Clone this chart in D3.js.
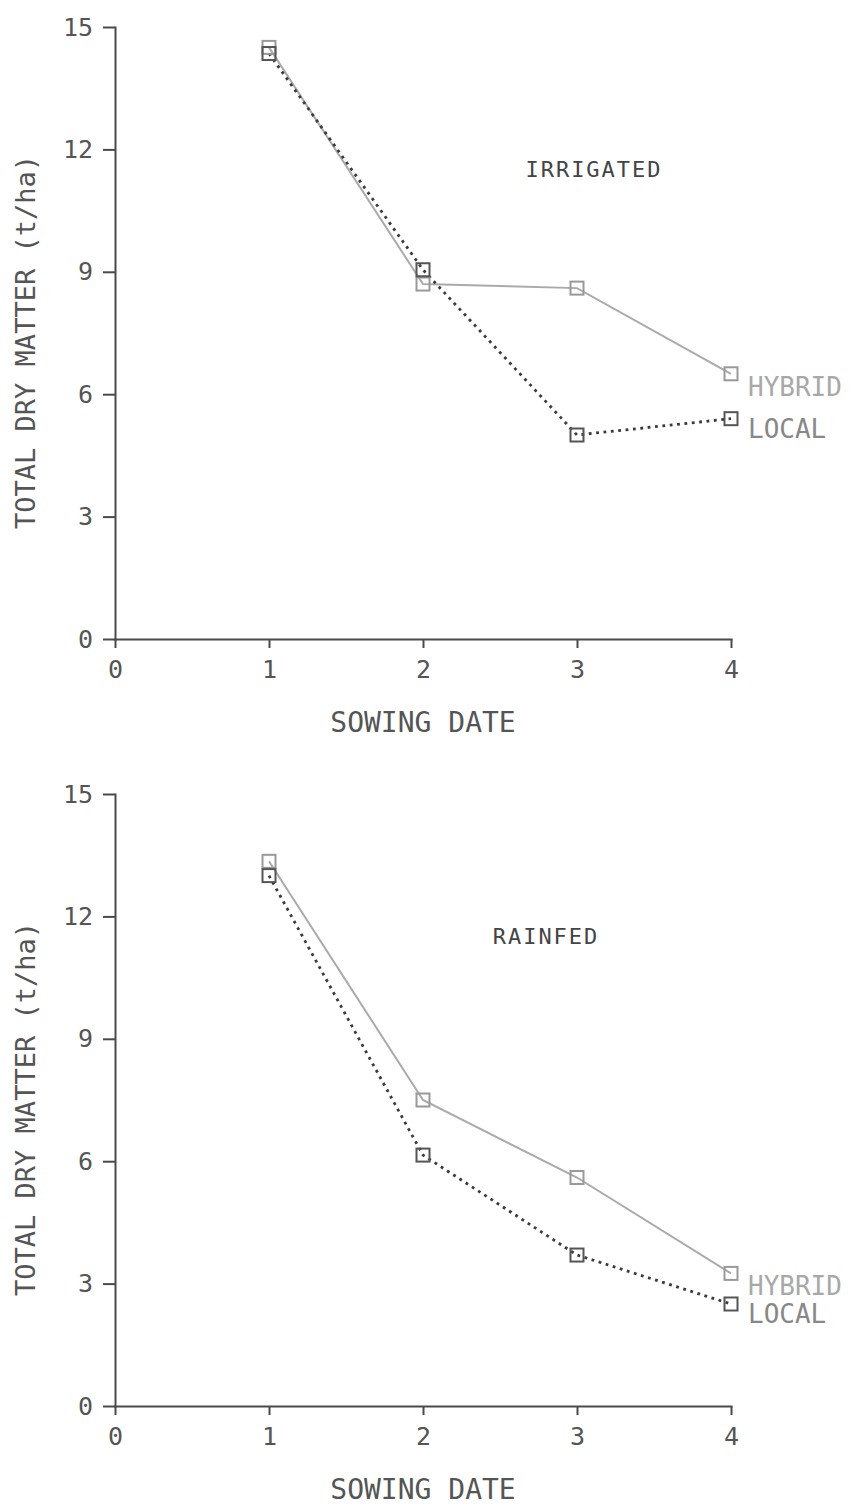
<!DOCTYPE html>
<html>
<head>
<meta charset="utf-8">
<script src="https://cdn.jsdelivr.net/npm/d3@7"></script>
<style>
  html, body { margin: 0; padding: 0; background: #fff; }
  svg { display: block; }
  .axis path, .axis line { stroke: #4a4a4a; stroke-width: 2; }
  .axis text { font-family: "DejaVu Sans Mono", monospace; font-size: 25px; fill: #555; }
  .title { font-family: "DejaVu Sans Mono", monospace; }
</style>
</head>
<body>
<svg id="chart" width="856" height="1508"></svg>
<script>
// Total dry matter (t/ha) by sowing date, hybrid vs local
const sowingDates = [1, 2, 3, 4];
const irrigatedHybrid = [14.5, 8.7, 8.6, 6.5];
const irrigatedLocal = [14.35, 9.05, 5.0, 5.4];
const rainfedHybrid = [13.35, 7.5, 5.6, 3.25];
const rainfedLocal = [13.0, 6.15, 3.7, 2.5];
const xTicks = [0, 1, 2, 3, 4];
const yTicks = [0, 3, 6, 9, 12, 15];
const panelNames = ["IRRIGATED", "RAINFED"];
const seriesNames = ["HYBRID", "LOCAL"];

const svg = d3.select("#chart");

const x = d3.scaleLinear().domain([0, 4]).range([115, 731]);
const y = d3.scaleLinear().domain([0, 15]).range([639, 27]);

const panels = [
  { name: panelNames[0], hybrid: irrigatedHybrid, local: irrigatedLocal, offset: 0, tx: 594, ty: 177 },
  { name: panelNames[1], hybrid: rainfedHybrid, local: rainfedLocal, offset: 767, tx: 546, ty: 944 - 767 }
];

const line = d3.line()
  .x((d, i) => x(sowingDates[i]))
  .y(d => y(d));

panels.forEach(p => {
  const g = svg.append("g").attr("transform", `translate(0,${p.offset})`);

  // axes
  g.append("g")
    .attr("class", "axis")
    .attr("transform", `translate(${x(0)},0)`)
    .call(d3.axisLeft(y).tickValues(yTicks).tickFormat(d3.format("d"))
      .tickSize(12).tickSizeOuter(0).tickPadding(10));

  g.append("g")
    .attr("class", "axis")
    .attr("transform", `translate(0,${y(0)})`)
    .call(d3.axisBottom(x).tickValues(xTicks).tickFormat(d3.format("d"))
      .tickSize(9).tickSizeOuter(0).tickPadding(12));

  g.selectAll(".axis .domain").attr("stroke-linecap", "square");

  // axis titles
  g.append("text")
    .attr("class", "title")
    .attr("transform", `translate(35,${(y(0) + y(15)) / 2 + 9}) rotate(-90)`)
    .attr("text-anchor", "middle")
    .attr("font-size", 27)
    .style("fill", "#555")
    .text("TOTAL DRY MATTER (t/ha)");

  g.append("text")
    .attr("class", "title")
    .attr("x", (x(0) + x(4)) / 2)
    .attr("y", 732)
    .attr("text-anchor", "middle")
    .attr("font-size", 28)
    .style("fill", "#555")
    .text("SOWING DATE");

  // panel name
  g.append("text")
    .attr("class", "title")
    .attr("x", p.tx)
    .attr("y", p.ty)
    .attr("text-anchor", "middle")
    .attr("font-size", 22)
    .attr("letter-spacing", 2)
    .style("fill", "#444")
    .text(p.name);

  // hybrid: solid light line
  g.append("path")
    .datum(p.hybrid)
    .attr("d", line)
    .attr("fill", "none")
    .attr("stroke", "#aaa")
    .attr("stroke-width", 2);

  // local: dotted dark line
  g.append("path")
    .datum(p.local)
    .attr("d", line)
    .attr("fill", "none")
    .attr("stroke", "#3a3a3a")
    .attr("stroke-width", 2.8)
    .attr("stroke-dasharray", "2.8,4.6");

  const s = 13;
  g.selectAll(".mh")
    .data(p.hybrid)
    .join("rect")
    .attr("x", (d, i) => x(sowingDates[i]) - s / 2)
    .attr("y", d => y(d) - s / 2)
    .attr("width", s).attr("height", s)
    .attr("fill", "none")
    .attr("stroke", "#999")
    .attr("stroke-width", 2);

  g.selectAll(".ml")
    .data(p.local)
    .join("rect")
    .attr("x", (d, i) => x(sowingDates[i]) - s / 2)
    .attr("y", d => y(d) - s / 2)
    .attr("width", s).attr("height", s)
    .attr("fill", "none")
    .attr("stroke", "#555")
    .attr("stroke-width", 2);

  // series labels at the last sowing date
  const last = sowingDates.length - 1;
  g.append("text")
    .attr("class", "title")
    .attr("x", x(sowingDates[last]) + 17)
    .attr("y", y(p.hybrid[last]) + 22)
    .attr("font-size", 26)
    .style("fill", "#a8a8a8")
    .text(seriesNames[0]);

  g.append("text")
    .attr("class", "title")
    .attr("x", x(sowingDates[last]) + 17)
    .attr("y", y(p.local[last]) + 19)
    .attr("font-size", 26)
    .style("fill", "#888")
    .text(seriesNames[1]);
});
</script>
</body>
</html>
